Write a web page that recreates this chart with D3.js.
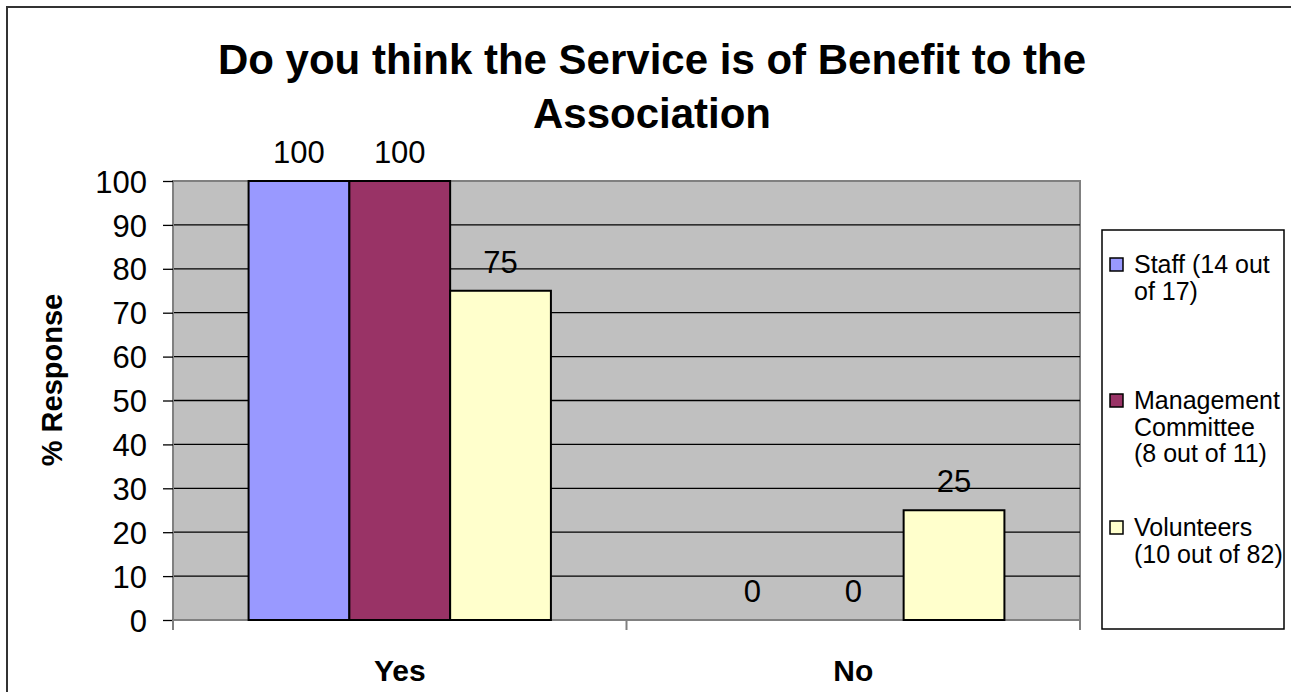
<!DOCTYPE html>
<html>
<head>
<meta charset="utf-8">
<script src="https://cdn.jsdelivr.net/npm/d3@7"></script>
<style>
  html, body { margin: 0; padding: 0; background: #fff; }
  svg { display: block; font-family: "Liberation Sans", Arial, sans-serif; }
</style>
</head>
<body>
<svg id="chart" width="1291" height="692"></svg>
<script>
// Survey answers, percent of respondents per group
const categories = ["Yes", "No"];
const seriesNames = ["Staff (14 out of 17)", "Management Committee (8 out of 11)", "Volunteers (10 out of 82)"];
const staffValues = [100, 0];
const managementValues = [100, 0];
const volunteerValues = [75, 25];
const yTicks = [0, 10, 20, 30, 40, 50, 60, 70, 80, 90, 100];
const legendLines = [["Staff (14 out", "of 17)"], ["Management", "Committee", "(8 out of 11)"], ["Volunteers", "(10 out of 82)"]];
const titleLines = ["Do you think the Service is of Benefit to the", "Association"];
const yAxisTitle = "% Response";

const seriesValues = [staffValues, managementValues, volunteerValues];
const colors = ["#9999FF", "#993366", "#FFFFCC"];

const svg = d3.select("#chart");

// Chart frame
svg.append("rect").attr("x", 7).attr("y", 7).attr("width", 1320).attr("height", 720)
  .attr("fill", "#fff").attr("stroke", "#333").attr("stroke-width", 2);

const plot = { left: 173, right: 1080, top: 181, bottom: 620 };

const x0 = d3.scaleBand().domain(categories).range([plot.left, plot.right]).paddingInner(0).paddingOuter(0);
const x1 = d3.scaleBand().domain(d3.range(seriesNames.length))
  .range([0, x0.bandwidth()]).paddingOuter(0.75).paddingInner(0);
const y = d3.scaleLinear().domain([0, 100]).range([plot.bottom, plot.top]);

// Plot background
svg.append("rect").attr("x", plot.left).attr("y", plot.top)
  .attr("width", plot.right - plot.left).attr("height", plot.bottom - plot.top)
  .attr("fill", "#C0C0C0").attr("stroke", "#808080").attr("stroke-width", 2);

// Horizontal gridlines
svg.append("g").selectAll("line").data(yTicks.filter(t => t > 0 && t < 100)).join("line")
  .attr("x1", plot.left).attr("x2", plot.right)
  .attr("y1", d => y(d)).attr("y2", d => y(d))
  .attr("stroke", "#000").attr("stroke-width", 1.3);

// Y axis
const yAxis = svg.append("g").attr("transform", `translate(${plot.left},0)`)
  .call(d3.axisLeft(y).tickValues(yTicks).tickSize(10).tickPadding(16).tickFormat(d3.format("d")));
yAxis.select(".domain").attr("stroke", "#808080").attr("stroke-width", 2)
  .attr("d", `M0,${plot.top}V${plot.bottom + 10}`);
yAxis.selectAll(".tick line").attr("stroke", "#000").attr("stroke-width", 1.3);
yAxis.selectAll(".tick text").attr("font-size", 31).attr("fill", "#000")
  .attr("font-family", "Liberation Sans, Arial, sans-serif").attr("dy", "0.36em");

// X axis (category separators)
const catEdges = [plot.left, ...categories.map(c => x0(c) + x0.bandwidth())];
svg.append("g").selectAll("line").data(catEdges).join("line")
  .attr("x1", d => d).attr("x2", d => d)
  .attr("y1", plot.bottom).attr("y2", plot.bottom + 10)
  .attr("stroke", "#808080").attr("stroke-width", 2);
svg.append("line").attr("x1", plot.left).attr("x2", plot.right)
  .attr("y1", plot.bottom).attr("y2", plot.bottom)
  .attr("stroke", "#808080").attr("stroke-width", 2);

svg.append("g").selectAll("text").data(categories).join("text")
  .attr("x", d => x0(d) + x0.bandwidth() / 2).attr("y", 681)
  .attr("text-anchor", "middle").attr("font-size", 30).attr("font-weight", "bold")
  .text(d => d);

// Bars
const barData = [];
categories.forEach((c, ci) => seriesValues.forEach((vals, si) => barData.push({ c, si, v: vals[ci] })));

svg.append("g").selectAll("rect").data(barData.filter(d => d.v > 0)).join("rect")
  .attr("x", d => x0(d.c) + x1(d.si)).attr("width", x1.bandwidth())
  .attr("y", d => y(d.v)).attr("height", d => y(0) - y(d.v))
  .attr("fill", d => colors[d.si]).attr("stroke", "#000").attr("stroke-width", 2);

// Value labels
svg.append("g").selectAll("text").data(barData).join("text")
  .attr("x", d => x0(d.c) + x1(d.si) + x1.bandwidth() / 2)
  .attr("y", d => y(d.v) - 18)
  .attr("text-anchor", "middle").attr("font-size", 31).attr("fill", "#000")
  .text(d => d.v);

// Title
svg.append("g").selectAll("text").data(titleLines).join("text")
  .attr("x", 652).attr("y", (d, i) => 74 + i * 54)
  .attr("text-anchor", "middle").attr("font-size", 42).attr("font-weight", "bold")
  .text(d => d);

// Y axis title
svg.append("text").attr("transform", "translate(62,380) rotate(-90)")
  .attr("text-anchor", "middle").attr("font-size", 29).attr("font-weight", "bold")
  .text(yAxisTitle);

// Legend
const legend = svg.append("g");
legend.append("rect").attr("x", 1102).attr("y", 230).attr("width", 182).attr("height", 399)
  .attr("fill", "#fff").attr("stroke", "#000").attr("stroke-width", 1.5);
const firstBaselines = [273, 409, 536];
const lineStep = 26.5;
seriesNames.forEach((name, i) => {
  const g = legend.append("g");
  g.append("rect").attr("x", 1110).attr("y", firstBaselines[i] - 15).attr("width", 13).attr("height", 13)
    .attr("fill", colors[i]).attr("stroke", "#000").attr("stroke-width", 1.5);
  g.selectAll("text").data(legendLines[i]).join("text")
    .attr("x", 1134).attr("y", (d, j) => firstBaselines[i] + j * lineStep)
    .attr("font-size", 25).attr("fill", "#000")
    .text(d => d);
});
</script>
</body>
</html>
